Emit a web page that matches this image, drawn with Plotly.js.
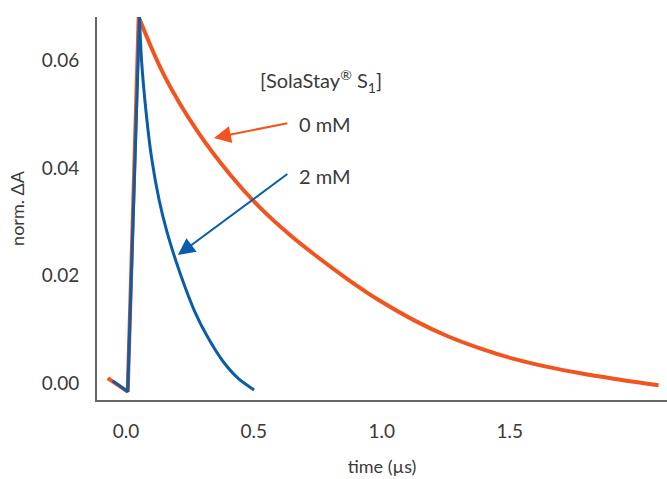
<!DOCTYPE html>
<html>
<head>
<meta charset="utf-8">
<script src="https://cdn.plot.ly/plotly-3.0.1.min.js"></script>
<style>html,body{margin:0;padding:0;background:#fff;}#chart{width:667px;height:479px;}</style>
</head>
<body>
<div id="chart"></div>
<script>
// time (µs) and normalised ΔA
const t0mM = [-0.071, 0.007, 0.050, 0.150, 0.280, 0.410, 0.527, 0.645, 0.734, 0.867, 0.996, 1.125, 1.258, 1.387, 1.516, 1.648, 1.777, 1.906, 2.082];
const a0mM = [0.0009, -0.0016, 0.0681, 0.0572, 0.0468, 0.0386, 0.0325, 0.0274, 0.0240, 0.0193, 0.0152, 0.0117, 0.0087, 0.0064, 0.0045, 0.0030, 0.0018, 0.0008, -0.0004];
const t2mM = [-0.052, 0.007, 0.053, 0.061, 0.078, 0.100, 0.130, 0.160, 0.190, 0.230, 0.270, 0.320, 0.380, 0.440, 0.501];
const a2mM = [0.0004, -0.0016, 0.0681, 0.0601, 0.0508, 0.0420, 0.0340, 0.0282, 0.0235, 0.0180, 0.0132, 0.0085, 0.0040, 0.0008, -0.0013];
const xTicks = [0, 0.5, 1.0, 1.5];
const xTickText = ['0.0', '0.5', '1.0', '1.5'];
const yTicks = [0, 0.02, 0.04, 0.06];
const yTickText = ['0.00', '0.02', '0.04', '0.06'];
const seriesNames = ['0 mM', '2 mM'];
const legendTitle = '[SolaStay<sup>®</sup> S<sub>1</sub>]';

const RED = '#F2541F';
const BLUE = '#0A5DA8';
const FONT = 'Lato, "Open Sans", sans-serif';
const TXT = '#3a3a3a';

// split each series into the linear rise (first 3 points) and the smooth decay
function rise(a) { return a.slice(0, 3); }
function decay(a, k) { return a.slice(k); }

const traces = [
  {x: rise(t0mM), y: rise(a0mM), mode: 'lines', line: {color: RED, width: 4}, name: seriesNames[0], showlegend: false},
  {x: decay(t0mM, 2), y: decay(a0mM, 2), mode: 'lines', line: {color: RED, width: 4, shape: 'spline', smoothing: 1}, name: seriesNames[0], showlegend: false},
  {x: rise(t2mM), y: rise(a2mM), mode: 'lines', line: {color: BLUE, width: 3}, name: seriesNames[1], showlegend: false},
  {x: decay(t2mM, 2), y: decay(a2mM, 2), mode: 'lines', line: {color: BLUE, width: 3, shape: 'spline', smoothing: 0.8}, name: seriesNames[1], showlegend: false}
];

const layout = {
  width: 667, height: 479,
  margin: {l: 97, r: 0, t: 17, b: 79, pad: 0},
  paper_bgcolor: '#fff', plot_bgcolor: '#fff',
  font: {family: FONT, color: TXT, size: 19},
  showlegend: false,
  xaxis: {
    range: [-0.113, 2.115], showgrid: false, zeroline: false,
    showline: true, linecolor: '#666', linewidth: 2,
    tickmode: 'array', tickvals: xTicks, ticktext: xTickText,
    ticks: '', ticklabelstandoff: 13,
    tickfont: {family: FONT, size: 19, color: TXT},
    title: {text: 'time (µs)', font: {family: FONT, size: 18, color: TXT}, standoff: 20}
  },
  yaxis: {
    range: [-0.00316, 0.0681], showgrid: false, zeroline: false,
    showline: true, linecolor: '#666', linewidth: 2,
    tickmode: 'array', tickvals: yTicks, ticktext: yTickText,
    ticks: '', ticklabelstandoff: 12,
    tickfont: {family: FONT, size: 19, color: TXT},
    title: {text: 'norm. ΔA', font: {family: FONT, size: 18, color: TXT}, standoff: 12}
  },
  annotations: [
    {x: 0.764, y: 0.0562, xref: 'x', yref: 'y', text: legendTitle, showarrow: false,
     font: {family: FONT, size: 20, color: TXT}, xanchor: 'center', yanchor: 'middle'},
    {x: 0.668, y: 0.0481, xref: 'x', yref: 'y', text: seriesNames[0], showarrow: false,
     font: {family: FONT, size: 20, color: TXT}, xanchor: 'left', yanchor: 'middle'},
    {x: 0.668, y: 0.0386, xref: 'x', yref: 'y', text: seriesNames[1], showarrow: false,
     font: {family: FONT, size: 20, color: TXT}, xanchor: 'left', yanchor: 'middle'},
    {x: 0.344, y: 0.0456, xref: 'x', yref: 'y', ax: 0.637, ay: 0.0484, axref: 'x', ayref: 'y',
     text: '', showarrow: true, arrowhead: 2, arrowsize: 1.7, arrowwidth: 2, arrowcolor: RED, standoff: 0},
    {x: 0.203, y: 0.0238, ax: 0.637, ay: 0.0391, xref: 'x', yref: 'y', axref: 'x', ayref: 'y',
     text: '', showarrow: true, arrowhead: 2, arrowsize: 1.7, arrowwidth: 2, arrowcolor: BLUE, standoff: 0}
  ]
};

Plotly.newPlot('chart', traces, layout, {displayModeBar: false, staticPlot: true});
</script>
</body>
</html>
